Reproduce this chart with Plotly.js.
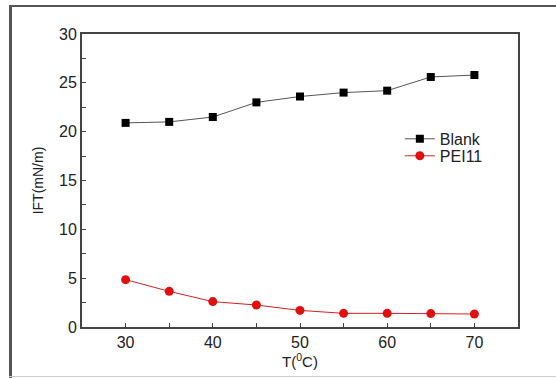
<!DOCTYPE html>
<html>
<head>
<meta charset="utf-8">
<script src="https://cdn.plot.ly/plotly-3.0.1.min.js"></script>
<style>
html,body{margin:0;padding:0;background:#fff;}
#wrap{position:relative;width:556px;height:378px;overflow:hidden;}
#chart{position:absolute;left:0;top:0;width:556px;height:378px;}
#fl{position:absolute;left:9px;top:5px;width:3px;height:373px;background:#555;}
#ft{position:absolute;left:9px;top:5px;width:547px;height:2px;background:#555;}
#fb{position:absolute;left:9px;top:376px;width:547px;height:1px;background:#ccc;}
</style>
</head>
<body>
<div id="wrap">
<div id="chart"></div>
<div id="fl"></div><div id="ft"></div><div id="fb"></div>
</div>
<script>
var temps = [30, 35, 40, 45, 50, 55, 60, 65, 70];
var blank = [20.9, 21.0, 21.5, 23.0, 23.6, 24.0, 24.2, 25.6, 25.8];
var pei11 = [4.85, 3.65, 2.6, 2.25, 1.7, 1.4, 1.4, 1.37, 1.33];
var seriesNames = ['Blank', 'PEI11'];

var fam = 'Liberation Sans, Arial, sans-serif';
var font = {family: fam, size: 16, color: '#222'};

var traces = [
  {x: temps, y: blank, name: seriesNames[0], type: 'scatter', mode: 'lines+markers', legend: 'legend',
   line: {color: '#555', width: 1}, marker: {symbol: 'square', size: 8, color: '#000'}},
  {x: temps, y: pei11, name: seriesNames[1], type: 'scatter', mode: 'lines+markers', legend: 'legend2',
   line: {color: '#d62020', width: 1}, marker: {symbol: 'circle', size: 9, color: '#e01010'}}
];

var axisCommon = {
  showline: true, linecolor: '#444', linewidth: 2, mirror: true,
  ticks: 'inside', ticklen: 4, tickwidth: 1, tickcolor: '#444',
  showgrid: false, zeroline: false, tickfont: font
};

var legFont = {family: fam, size: 16, color: '#222'};

var layout = {
  width: 556, height: 378,
  margin: {l: 82, r: 38, t: 34, b: 51},
  paper_bgcolor: '#fff', plot_bgcolor: '#fff',
  font: font,
  showlegend: true,
  legend: {x: 0.729, y: 0.70, xanchor: 'left', yanchor: 'top', bgcolor: 'rgba(0,0,0,0)', font: legFont},
  legend2: {x: 0.729, y: 0.642, xanchor: 'left', yanchor: 'top', bgcolor: 'rgba(0,0,0,0)', font: legFont},
  xaxis: Object.assign({}, axisCommon, {
    range: [25, 75], tickvals: [30, 40, 50, 60, 70],
    minor: {tickvals: [35, 45, 55, 65], ticks: 'inside', ticklen: 4, tickcolor: '#444'},
    title: {text: 'T(<sup>0</sup>C)', font: {family: fam, size: 15, color: '#222'}, standoff: 2}
  }),
  yaxis: Object.assign({}, axisCommon, {
    range: [0, 30], tickvals: [0, 5, 10, 15, 20, 25, 30],
    minor: {tickvals: [2.5, 7.5, 12.5, 17.5, 22.5, 27.5], ticks: 'inside', ticklen: 4, tickcolor: '#444'},
    title: {text: 'IFT(mN/m)', font: {family: fam, size: 14, color: '#222'}, standoff: 12}
  })
};

Plotly.newPlot('chart', traces, layout, {displayModeBar: false, staticPlot: true});
</script>
</body>
</html>
